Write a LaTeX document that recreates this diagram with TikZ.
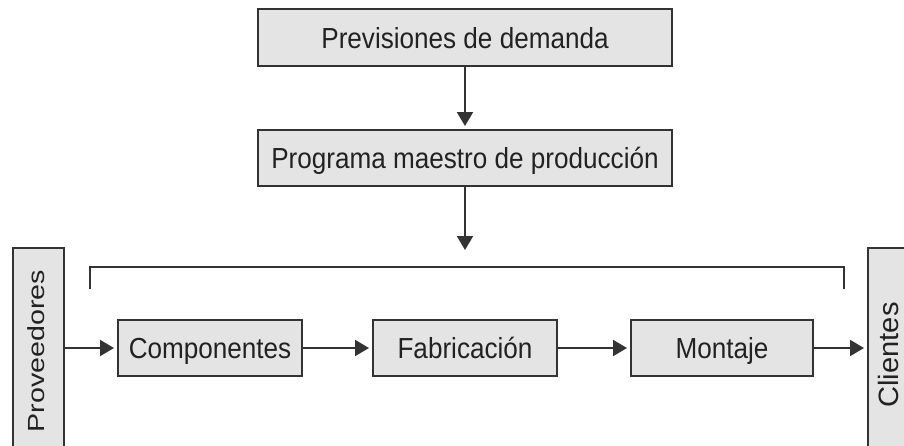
\documentclass[tikz,border=0pt]{standalone}
\usepackage{fontspec}
\setmainfont{Liberation Sans}
\newfontfamily\hfont[FakeStretch=0.9]{Liberation Sans}
\newfontfamily\pfont[FakeStretch=1.23]{Liberation Sans}
\newfontfamily\cfont[FakeStretch=1.04]{Liberation Sans}
\usetikzlibrary{arrows.meta}
\definecolor{boxfill}{HTML}{E4E4E4}
\definecolor{linec}{HTML}{333333}
\definecolor{textc}{HTML}{222222}
\begin{document}
\begin{tikzpicture}[x=1pt,y=-1pt,
  box/.style={draw=linec,fill=boxfill,line width=2pt,inner sep=0pt,
    font=\hfont\fontsize{29}{32}\selectfont,text=textc,text height=25pt,text depth=4pt},
  sidebox/.style={draw=linec,fill=boxfill,line width=2pt,inner sep=0pt},
  sidetext/.style={inner sep=0pt,text=textc,rotate=90,text depth=0pt},
  conn/.style={draw=linec,line width=2pt,shorten >=3pt,-{Triangle[length=14pt,width=16pt]}},
]
\clip (0,0) rectangle (904,445);
\fill[white] (0,0) rectangle (904,445);
\node[box,minimum width=414pt,minimum height=57pt] (prev) at (465,37.5) {Previsiones de demanda};
\node[box,minimum width=414pt,minimum height=56pt] (prog) at (465,158) {Programa maestro de producción};
\node[sidebox,minimum width=51pt,minimum height=204pt] (prov) at (38.5,350) {};
\node[sidetext,font=\pfont\fontsize{23.3}{26}\selectfont,text height=17pt] (provt) at (35.8,351) {Proveedores};
\node[sidebox,minimum width=51pt,minimum height=204pt] (cli) at (893.5,350) {};
\node[sidetext,font=\cfont\fontsize{28}{30}\selectfont,text height=20pt] (clit) at (888,355) {Clientes};
\node[box,minimum width=184pt,minimum height=56pt] (comp) at (210,348) {Componentes};
\node[box,minimum width=184pt,minimum height=56pt] (fab) at (465,348) {Fabricación};
\node[box,minimum width=182pt,minimum height=56pt] (mont) at (722,348) {Montaje};
\coordinate (btip) at (465,253);
\coordinate (bl) at (90,289);
\coordinate (br) at (844,289);
\draw[conn] (prev) -- (prog);
\draw[conn] (prog) -- (btip);
\draw[draw=linec,line width=2pt] (bl) |- (465,267) -| (br);
\draw[conn] (prov.east |- comp.west) -- (comp);
\draw[conn] (comp) -- (fab);
\draw[conn] (fab) -- (mont);
\draw[conn] (mont) -- (mont -| cli.west);
\end{tikzpicture}
\end{document}
